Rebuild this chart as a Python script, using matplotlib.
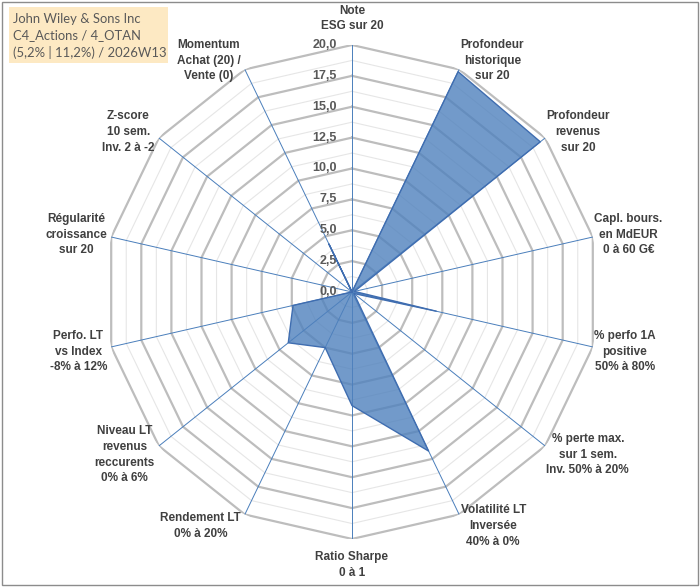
import numpy as np
import matplotlib.pyplot as plt
from matplotlib.patches import Rectangle

# axes of the radar, clockwise from the top
categories = [
    "Note\nESG sur 20",
    "Profondeur\nhistorique\nsur 20",
    "Profondeur\nrevenus\nsur 20",
    "Capl. bours.\nen MdEUR\n0 à 60 G€",
    "% perfo 1A\npositive\n50% à 80%",
    "% perte max.\nsur 1 sem.\nInv. 50% à 20%",
    "Volatilité LT\nInversée\n40% à 0%",
    "Ratio Sharpe\n0 à 1",
    "Rendement LT\n0% à 20%",
    "Niveau LT\nrevenus\nreccurents\n0% à 6%",
    "Perfo. LT\nvs Index\n-8% à 12%",
    "Régularité\ncroissance\nsur 20",
    "Z-score\n10 sem.\nInv. 2 à -2",
    "Momentum\nAchat (20) /\nVente (0)",
]
scores = [0.0, 19.8, 19.5, 0.2, 7.0, 0.2, 14.3, 9.2, 5.0, 6.6, 4.9, 0.0, 0.0, 4.3]
major_levels = [0.0, 2.5, 5.0, 7.5, 10.0, 12.5, 15.0, 17.5, 20.0]
minor_levels = [1.25, 3.75, 6.25, 8.75, 11.25, 13.75, 16.25, 18.75]
title_lines = ["John Wiley & Sons Inc", "C4_Actions / 4_OTAN", "(5,2% | 11,2%) / 2026W13"]

plt.rcParams['font.family'] = ['Liberation Sans', 'DejaVu Sans']

n = len(categories)
theta = np.arange(n) * 2 * np.pi / n
theta_closed = np.append(theta, theta[0])

fig = plt.figure(figsize=(7.0, 5.87), dpi=100)
ax = fig.add_axes([0.15, 0.0818, 0.7057, 0.8416], projection='polar')
ax.set_theta_zero_location('N')
ax.set_theta_direction(-1)
ax.set_ylim(0, 20)
ax.grid(False)
ax.spines['polar'].set_visible(False)
ax.set_xticks([])
ax.set_yticks([])
ax.patch.set_alpha(0)

# polygon grid
for lv in minor_levels:
    ax.plot(theta_closed, [lv] * (n + 1), color='#E6E6E6', lw=0.8, zorder=1)
for lv in major_levels[1:]:
    ax.plot(theta_closed, [lv] * (n + 1), color='#BDBDBD', lw=1.6, zorder=2)

# spokes
for t in theta:
    ax.plot([t, t], [0, 20], color='#4A7EBB', lw=0.7, zorder=3)

# data
sc = scores + scores[:1]
ax.fill(theta_closed, sc, color='#4F81BD', alpha=0.8, zorder=4, lw=0)
ax.plot(theta_closed, sc, color='#3F6DB0', lw=1.0, zorder=5)

# radial tick labels
for lv in major_levels:
    ax.annotate(f"{lv:.1f}".replace('.', ','), xy=(0, lv), xytext=(-11, 0),
                textcoords='offset points', ha='right', va='center',
                fontsize=9, fontweight='bold', color='#595959',
                annotation_clip=False)

# category labels
for t, lab in zip(theta, categories):
    s, c = np.sin(t), np.cos(t)
    if abs(s) < 0.1:
        ha = 'center'
        va = 'bottom' if c > 0 else 'top'
        dx, dy = 0, 9 * np.sign(c)
    else:
        ha = 'left' if s > 0 else 'right'
        va = 'center'
        dx = 1 if s > 0 else -3
        dy = 7 * c if c > 0 else 7 * c - 2
    ax.annotate(lab, xy=(t, 20), xytext=(dx, dy), textcoords='offset points',
                ha=ha, va=va, multialignment='center', fontsize=8.5,
                fontweight='bold', color='#404040', linespacing=1.4,
                annotation_clip=False)

# title box
fig.patches.append(Rectangle((9 / 700, 1 - 63 / 587), 159 / 700, 56 / 587,
                             transform=fig.transFigure, facecolor='#FDE9C3',
                             edgecolor='none', zorder=0))
fig.text(13 / 700, 1 - 36 / 587, "\n".join(title_lines), ha='left', va='center',
         fontsize=9.4, color='#595959', family=['Lato', 'DejaVu Sans'],
         linespacing=1.45)

# outer frame
fig.patches.append(Rectangle((2 / 700, 2 / 587), 696 / 700, 583 / 587,
                             transform=fig.transFigure, facecolor='none',
                             edgecolor='#8C8C8C', lw=1.0))

fig.savefig('out.png', dpi=100)
